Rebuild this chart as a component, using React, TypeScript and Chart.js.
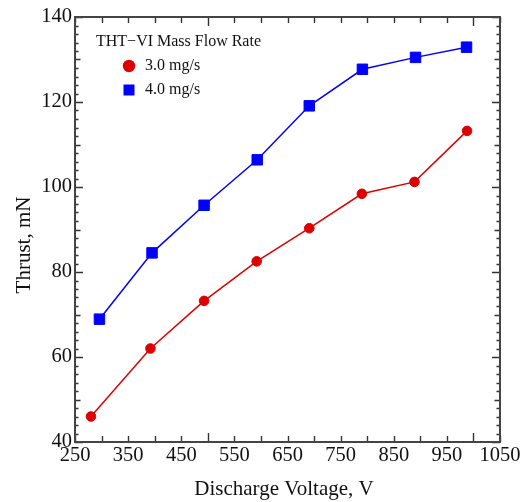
import React, { useEffect, useRef } from "react";
import { Chart, registerables } from "chart.js";

Chart.register(...registerables);

const redVoltage = [280, 392, 493, 592, 691, 790, 889, 988];
const redThrust = [46.0, 62.0, 73.2, 82.5, 90.3, 98.4, 101.2, 113.2];
const blueVoltage = [296, 395, 493, 593, 691, 791, 891, 987];
const blueThrust = [68.9, 84.5, 95.7, 106.4, 119.1, 127.7, 130.5, 132.9];
const seriesNames = ["3.0 mg/s", "4.0 mg/s"];
const legendTitle = "THT\u2212VI Mass Flow Rate";
const xTitle = "Discharge Voltage, V";
const yTitle = "Thrust, mN";
const xTickLabels = [250, 350, 450, 550, 650, 750, 850, 950, 1050];
const yTickLabels = [40, 60, 80, 100, 120, 140];

const RED = "#dd0000";
const BLUE = "#0000ff";
const FONT = "'Liberation Serif', 'DejaVu Serif', serif";

const decorPlugin = {
  id: "decor",
  afterDraw(chart: any) {
    const { ctx, chartArea } = chart;
    const { left, right, top, bottom } = chartArea;
    const xs = chart.scales.x;
    const ys = chart.scales.y;
    ctx.save();
    // tick marks
    ctx.strokeStyle = "#333";
    ctx.lineWidth = 1.4;
    ctx.beginPath();
    for (let v = 250; v <= 1050; v += 50) {
      const px = Math.round(xs.getPixelForValue(v)) + 0.5;
      const len = v % 500 === 0 ? 9 : 6;
      ctx.moveTo(px, bottom);
      ctx.lineTo(px, bottom - len);
      ctx.moveTo(px, top);
      ctx.lineTo(px, top + len);
    }
    for (let v = 40; v <= 140; v += 2) {
      const py = Math.round(ys.getPixelForValue(v)) + 0.5;
      const len = v % 20 === 0 ? 8 : v % 10 === 0 ? 5.5 : 3.5;
      ctx.moveTo(left, py);
      ctx.lineTo(left + len, py);
      ctx.moveTo(right, py);
      ctx.lineTo(right - len, py);
    }
    ctx.stroke();
    // frame
    ctx.strokeStyle = "#444";
    ctx.lineWidth = 2;
    ctx.strokeRect(left, top, right - left, bottom - top);

    // axis titles
    ctx.fillStyle = "#111";
    ctx.font = `21px ${FONT}`;
    ctx.textAlign = "center";
    ctx.textBaseline = "middle";
    ctx.fillText(xTitle, 284, 489);
    ctx.save();
    ctx.translate(24, 245);
    ctx.rotate(-Math.PI / 2);
    ctx.fillText(yTitle, 0, 0);
    ctx.restore();

    // legend
    ctx.textAlign = "left";
    ctx.font = `16px ${FONT}`;
    ctx.fillText(legendTitle, 96, 42);
    const items = [
      { name: seriesNames[0], color: RED, shape: "circle", y: 66 },
      { name: seriesNames[1], color: BLUE, shape: "square", y: 90 },
    ];
    items.forEach((it) => {
      ctx.fillStyle = it.color;
      ctx.beginPath();
      if (it.shape === "circle") {
        ctx.arc(129, it.y, 6.2, 0, Math.PI * 2);
      } else {
        ctx.rect(123.5, it.y - 5.5, 11, 11);
      }
      ctx.fill();
      ctx.fillStyle = "#111";
      ctx.fillText(it.name, 145, it.y);
    });
    ctx.restore();
  },
};

export default function App() {
  const ref = useRef<HTMLCanvasElement | null>(null);
  useEffect(() => {
    if (!ref.current) return;
    const chart = new Chart(ref.current, {
      type: "line",
      data: {
        datasets: [
          {
            label: seriesNames[0],
            data: redVoltage.map((x, i) => ({ x, y: redThrust[i] })),
            borderColor: RED,
            backgroundColor: RED,
            borderWidth: 1.5,
            pointStyle: "circle",
            pointRadius: 4.8,
            pointBorderWidth: 1,
            pointBorderColor: RED,
            pointBackgroundColor: RED,
            tension: 0,
          },
          {
            label: seriesNames[1],
            data: blueVoltage.map((x, i) => ({ x, y: blueThrust[i] })),
            borderColor: BLUE,
            backgroundColor: BLUE,
            borderWidth: 1.5,
            pointStyle: "rect",
            pointRadius: 7.4,
            pointBorderWidth: 1,
            pointBorderColor: BLUE,
            pointBackgroundColor: BLUE,
            tension: 0,
          },
        ],
      },
      options: {
        animation: false,
        responsive: false,
        events: [],
        layout: { padding: { left: 0, top: 17, right: 28, bottom: 0 } },
        plugins: {
          legend: { display: false },
          tooltip: { enabled: false },
          title: { display: false },
        },
        scales: {
          x: {
            type: "linear",
            min: 250,
            max: 1050,
            grid: { display: false, drawTicks: false },
            border: { display: false },
            afterBuildTicks: (s: any) => {
              s.ticks = xTickLabels.map((v) => ({ value: v }));
            },
            afterFit: (s: any) => {
              s.height = 60;
            },
            ticks: {
              autoSkip: false,
              maxRotation: 0,
              padding: 1,
              color: "#111",
              font: { family: FONT, size: 20.5 },
              callback: (v: any) => String(v),
            },
          },
          y: {
            type: "linear",
            min: 40,
            max: 140,
            grid: { display: false, drawTicks: false },
            border: { display: false },
            afterBuildTicks: (s: any) => {
              s.ticks = yTickLabels.map((v) => ({ value: v }));
            },
            afterFit: (s: any) => {
              s.width = 75;
            },
            ticks: {
              autoSkip: false,
              padding: 3,
              color: "#111",
              font: { family: FONT, size: 20.5 },
              callback: (v: any) => String(v),
            },
          },
        },
      },
      plugins: [decorPlugin],
    } as any);
    return () => chart.destroy();
  }, []);
  return (
    <div style={{ position: "fixed", left: 0, top: 0, width: 528, height: 502, background: "#fff" }}>
      <canvas ref={ref} width={528} height={502} style={{ display: "block" }} />
    </div>
  );
}
